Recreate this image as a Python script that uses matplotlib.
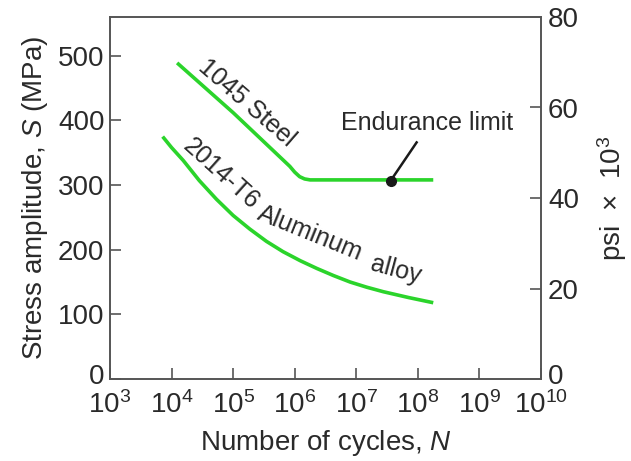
import numpy as np
import matplotlib
matplotlib.use("Agg")
import matplotlib.pyplot as plt
from matplotlib.ticker import NullLocator, FixedLocator
from matplotlib.transforms import ScaledTranslation

plt.rcParams['font.family'] = ['Liberation Sans', 'DejaVu Sans']
plt.rcParams['mathtext.fontset'] = 'custom'
plt.rcParams['mathtext.rm'] = 'Liberation Sans'
plt.rcParams['mathtext.it'] = 'Liberation Sans:italic'

# data (log10 N, stress in MPa)
steel_logN = [4.09, 5.0, 5.92, 6.0, 6.08, 6.16, 6.25, 7.0, 8.25]
steel_S = [489, 412, 329, 320, 313, 309.5, 308, 308, 308]

alu_logN = [3.855, 4.0, 4.19, 4.45, 4.73, 5.0, 5.27, 5.54, 5.81, 6.09, 6.36,
            6.63, 6.90, 7.17, 7.44, 7.85, 8.25]
alu_S = [375, 358, 338, 307, 278, 253, 232, 213, 197, 183, 171,
         160, 150, 142, 135, 126, 118]

endurance_logN = 7.56
endurance_S = 307
pointer_logN = 7.98
pointer_S = 366

xticks = [3, 4, 5, 6, 7, 8, 9, 10]
mpa_ticks = [0, 100, 200, 300, 400, 500]
psi_ticks = [0, 20, 40, 60, 80]

green = '#2bd42b'
axcol = '#555555'
txtcol = '#2a2a2a'

fig = plt.figure(figsize=(6.31, 4.61), dpi=100)
ax = fig.add_axes([110/631, 1-379/461, 431/631, 362/461])

ax.plot(10**np.array(steel_logN), steel_S, color=green, lw=2.6, solid_capstyle='butt')
ax.plot(10**np.array(alu_logN), alu_S, color=green, lw=2.6, solid_capstyle='butt')

ax.set_xscale('log')
ax.set_xlim(1e3, 1e10)
ax.set_ylim(0, 560)
ax.xaxis.set_major_locator(FixedLocator([10.0**k for k in xticks]))
ax.xaxis.set_minor_locator(NullLocator())
ax.set_xticklabels(['$10^{%d}$' % k for k in xticks])
ax.set_yticks(mpa_ticks)

for s in ax.spines.values():
    s.set_color(axcol)
    s.set_linewidth(1.2)

ax.tick_params(axis='both', direction='in', length=8, width=1.2, color=axcol,
               labelsize=20, labelcolor=txtcol, pad=4)
ax.tick_params(axis='x', pad=9)

ax.set_xlabel('Number of cycles, $N$', fontsize=20, color=txtcol, labelpad=6)
ax.set_ylabel('Stress amplitude, $S$ (MPa)', fontsize=20, color=txtcol, labelpad=6)

ax2 = ax.twinx()
ax2.set_ylim(0, 80)
ax2.set_yticks(psi_ticks)
for s in ax2.spines.values():
    s.set_color(axcol)
    s.set_linewidth(1.2)
ax2.tick_params(axis='y', direction='in', length=8, width=1.2, color=axcol,
                labelsize=20, labelcolor=txtcol, pad=5)
ax2.set_ylabel('psi  $\\times$  10$^{3}$', fontsize=20, color=txtcol, labelpad=12)

# lift the two "0" labels a little so they clear the x tick labels
lift = ScaledTranslation(0, 5/100, fig.dpi_scale_trans)
for a in (ax, ax2):
    lab = a.get_yticklabels()[0]
    lab.set_transform(lab.get_transform() + lift)

# endurance limit marker
ax.plot([10**endurance_logN, 10**pointer_logN], [endurance_S, pointer_S],
        color='#1a1a1a', lw=1.8)
ax.plot(10**endurance_logN, endurance_S, 'o', color='#1a1a1a', ms=7)
ax.text(10**8.15, 396, 'Endurance limit', ha='center', va='center',
        fontsize=18, color=txtcol)

# curve labels
ax.text(10**5.22, 427, '1045 Steel', rotation=-41, ha='center', va='center',
        fontsize=18, color=txtcol, rotation_mode='anchor')
ax.text(10**4.81, 317, '2014-T6', rotation=-42, ha='center', va='center',
        fontsize=18, color=txtcol, rotation_mode='anchor')
ax.text(10**6.25, 225, 'Aluminum', rotation=-22, ha='center', va='center',
        fontsize=18, color=txtcol, rotation_mode='anchor')
ax.text(10**7.64, 169, 'alloy', rotation=-15, ha='center', va='center',
        fontsize=18, color=txtcol, rotation_mode='anchor')

fig.savefig('out.png', dpi=100)
